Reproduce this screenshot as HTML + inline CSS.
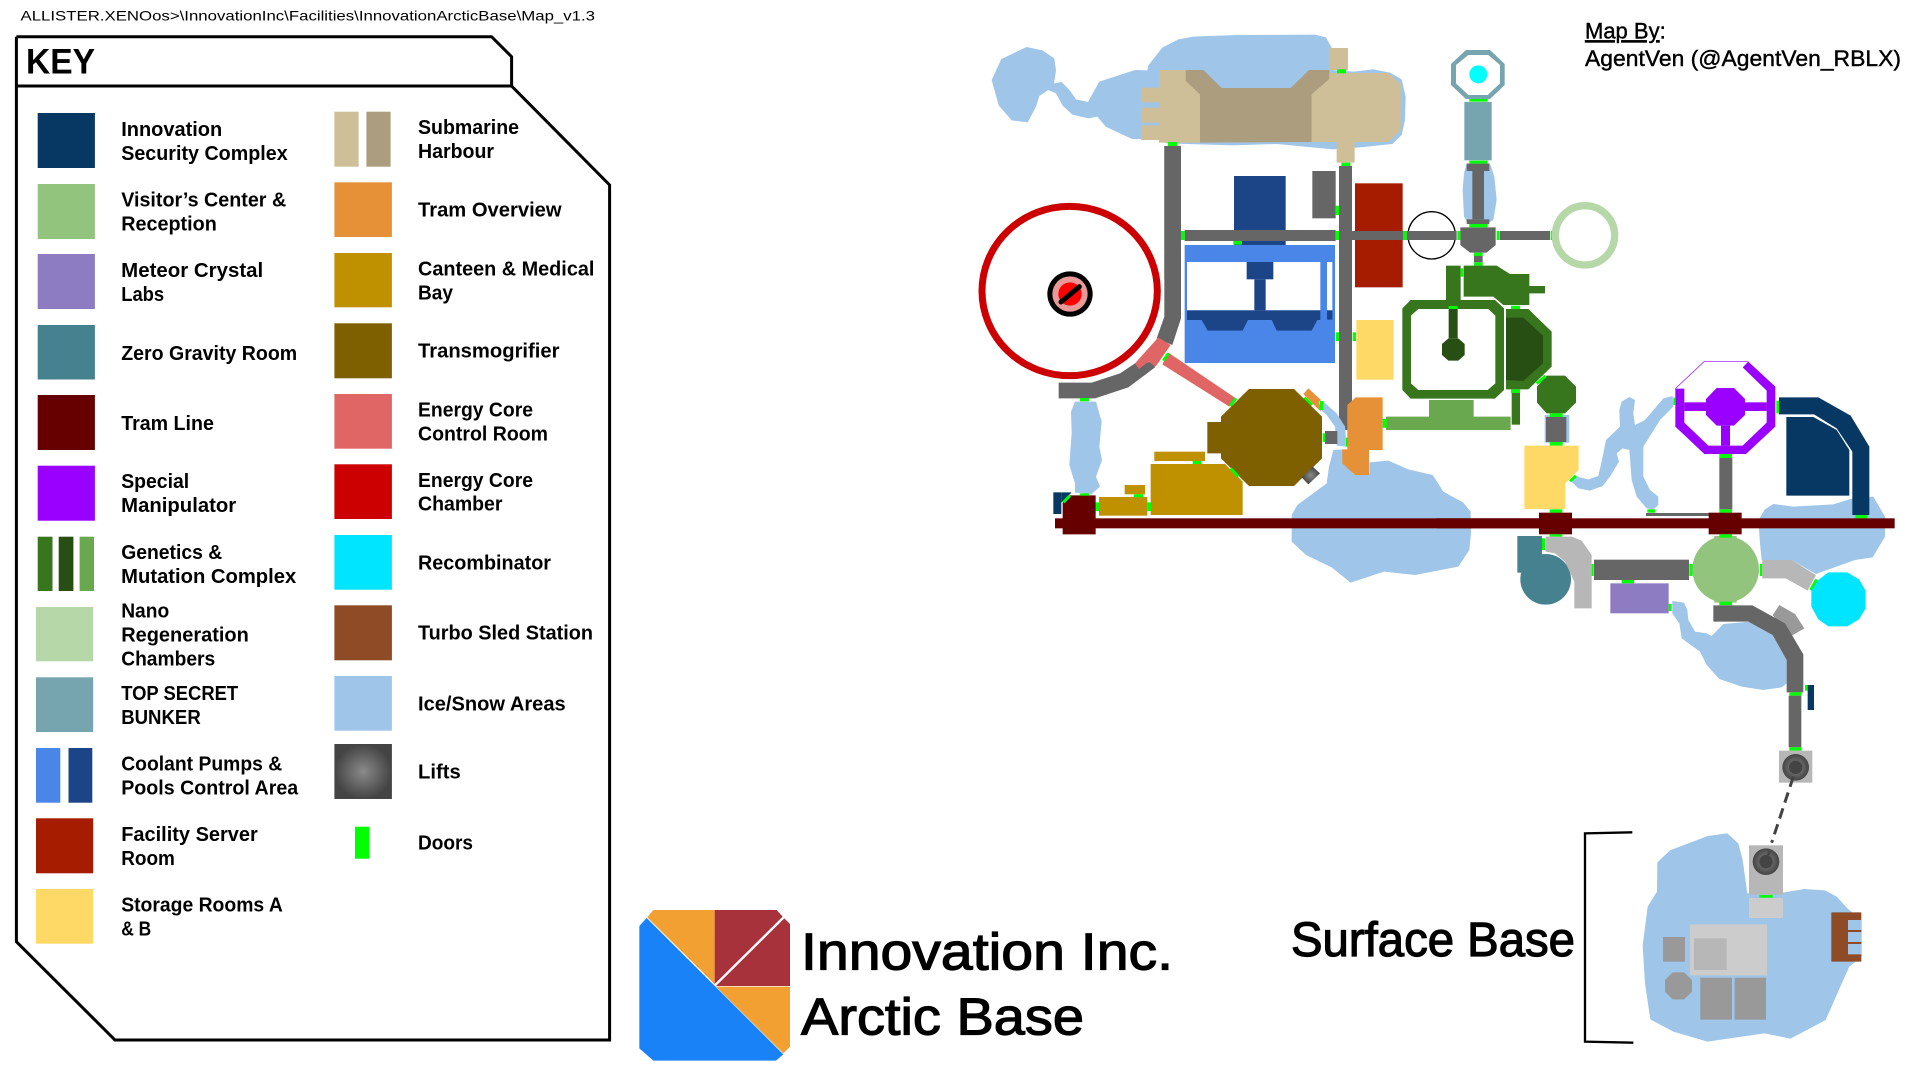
<!DOCTYPE html>
<html><head><meta charset="utf-8"><style>
html,body{margin:0;padding:0;background:#fff;width:1920px;height:1080px;overflow:hidden}
svg{display:block}
text{font-family:"Liberation Sans",sans-serif;fill:#000}
.k text{font-weight:700;font-size:20px}
.i{fill:#9fc5e8}.d{fill:#0f0}.dl{stroke:#0f0;stroke-width:9;fill:none}.y{fill:#666}
.n{fill:#073763}.g1{fill:#38761d}.g2{fill:#274e13}.g3{fill:#6aa84f}.c{fill:#bf9000}.dr{fill:#660000}.tan{fill:#cfbf99}.b1{fill:#4a86e8}.b2{fill:#1c4587}.or{fill:#e69138}.ts{fill:#76a5af}.lg{fill:#b7b7b7}.m{fill:#999}
</style></head><body>
<svg width="1920" height="1080" viewBox="0 0 1920 1080" xmlns="http://www.w3.org/2000/svg">
<defs><radialGradient id="lift"><stop offset="0" stop-color="#8a8a8a"/><stop offset="1" stop-color="#444"/></radialGradient></defs>
<rect width="1920" height="1080" fill="#fff"/>

<text x="20.5" y="20.7" font-size="14" textLength="574.5" lengthAdjust="spacingAndGlyphs">ALLISTER.XENOos&gt;\InnovationInc\Facilities\InnovationArcticBase\Map_v1.3</text>
<path d="M16.4 36.7H491.6L511.6 56.7V86L609.6 185V1040H115L16.4 941.7V86H511.6M16.4 86V36.7" fill="none" stroke="#000" stroke-width="3"/>
<text x="26" y="73.3" font-size="35" font-weight="700" textLength="69" lengthAdjust="spacingAndGlyphs">KEY</text>

<g class="k">
<rect x="37.7" y="113" width="57.2" height="55" class="n"/>
<rect x="37.7" y="184" width="57.2" height="55" fill="#93c47d"/>
<rect x="37.7" y="254" width="57.2" height="55" fill="#8e7cc3"/>
<rect x="37.7" y="325" width="57.2" height="54.5" fill="#45818e"/>
<rect x="37.7" y="395" width="57.2" height="55" class="dr"/>
<rect x="37.7" y="465.7" width="57.2" height="55" fill="#90f"/>
<rect x="37.7" y="536.7" width="14.8" height="54.3" class="g1"/><rect x="58.7" y="536.7" width="14.7" height="54.3" class="g2"/><rect x="79.6" y="536.7" width="14.4" height="54.3" class="g3"/>
<rect x="36" y="607" width="57.2" height="54.3" fill="#b6d7a8"/>
<rect x="36" y="677.3" width="57.2" height="54.7" class="ts"/>
<rect x="36" y="748" width="24.3" height="54.7" class="b1"/><rect x="68.5" y="748" width="23.8" height="54.7" class="b2"/>
<rect x="36" y="818.3" width="57.2" height="55" fill="#a61c00"/>
<rect x="36" y="889" width="57.2" height="54.7" fill="#ffd966"/>
<rect x="334.4" y="111.7" width="24.2" height="55" class="tan"/><rect x="366.4" y="111.7" width="24.2" height="55" fill="#ac9d7e"/>
<rect x="334.4" y="182.3" width="57.5" height="54.7" class="or"/>
<rect x="334.4" y="253" width="57.5" height="54.3" class="c"/>
<rect x="334.4" y="323.3" width="57.5" height="55" fill="#7f6000"/>
<rect x="334.4" y="394" width="57.5" height="54.7" fill="#e06666"/>
<rect x="334.4" y="464.3" width="57.5" height="54.7" fill="#c00"/>
<rect x="334.4" y="535" width="57.5" height="54.7" fill="#00e5ff"/>
<rect x="334.4" y="605.3" width="57.5" height="55" fill="#8e4b25"/>
<rect x="334.4" y="676" width="57.5" height="54.7" class="i"/>
<rect x="334.4" y="744" width="57.5" height="55" fill="url(#lift)"/>
<rect x="355" y="826.7" width="14.4" height="32" class="d"/>

<text x="121.2" y="136" textLength="101" lengthAdjust="spacingAndGlyphs">Innovation</text>
<text x="121.2" y="160" textLength="166.5" lengthAdjust="spacingAndGlyphs">Security Complex</text>
<text x="121.2" y="206.7" textLength="165" lengthAdjust="spacingAndGlyphs">Visitor’s Center &amp;</text>
<text x="121.2" y="230.7" textLength="95.6" lengthAdjust="spacingAndGlyphs">Reception</text>
<text x="121.2" y="277" textLength="142" lengthAdjust="spacingAndGlyphs">Meteor Crystal</text>
<text x="121.2" y="301" textLength="43" lengthAdjust="spacingAndGlyphs">Labs</text>
<text x="121.2" y="360" textLength="176" lengthAdjust="spacingAndGlyphs">Zero Gravity Room</text>
<text x="121.2" y="430" textLength="92.7" lengthAdjust="spacingAndGlyphs">Tram Line</text>
<text x="121.2" y="488" textLength="68" lengthAdjust="spacingAndGlyphs">Special</text>
<text x="121.2" y="512" textLength="115" lengthAdjust="spacingAndGlyphs">Manipulator</text>
<text x="121.2" y="559" textLength="101" lengthAdjust="spacingAndGlyphs">Genetics &amp;</text>
<text x="121.2" y="583" textLength="175" lengthAdjust="spacingAndGlyphs">Mutation Complex</text>
<text x="121.2" y="617.7" textLength="48" lengthAdjust="spacingAndGlyphs">Nano</text>
<text x="121.2" y="641.7" textLength="127.6" lengthAdjust="spacingAndGlyphs">Regeneration</text>
<text x="121.2" y="665.7" textLength="94" lengthAdjust="spacingAndGlyphs">Chambers</text>
<text x="121.2" y="700" textLength="117" lengthAdjust="spacingAndGlyphs">TOP SECRET</text>
<text x="121.2" y="724" textLength="79.6" lengthAdjust="spacingAndGlyphs">BUNKER</text>
<text x="121.2" y="770.7" textLength="161" lengthAdjust="spacingAndGlyphs">Coolant Pumps &amp;</text>
<text x="121.2" y="794.7" textLength="177" lengthAdjust="spacingAndGlyphs">Pools Control Area</text>
<text x="121.2" y="841" textLength="136.6" lengthAdjust="spacingAndGlyphs">Facility Server</text>
<text x="121.2" y="865" textLength="53.7" lengthAdjust="spacingAndGlyphs">Room</text>
<text x="121.2" y="911.7" textLength="161.6" lengthAdjust="spacingAndGlyphs">Storage Rooms A</text>
<text x="121.2" y="935.5" textLength="30" lengthAdjust="spacingAndGlyphs">&amp; B</text>

<text x="418" y="134" textLength="101" lengthAdjust="spacingAndGlyphs">Submarine</text>
<text x="418" y="158" textLength="76" lengthAdjust="spacingAndGlyphs">Harbour</text>
<text x="418" y="216.7" textLength="143.6" lengthAdjust="spacingAndGlyphs">Tram Overview</text>
<text x="418" y="275.3" textLength="176.4" lengthAdjust="spacingAndGlyphs">Canteen &amp; Medical</text>
<text x="418" y="299.3" textLength="35" lengthAdjust="spacingAndGlyphs">Bay</text>
<text x="418" y="357.5" textLength="141.5" lengthAdjust="spacingAndGlyphs">Transmogrifier</text>
<text x="418" y="416.3" textLength="115" lengthAdjust="spacingAndGlyphs">Energy Core</text>
<text x="418" y="440.3" textLength="130" lengthAdjust="spacingAndGlyphs">Control Room</text>
<text x="418" y="487" textLength="115" lengthAdjust="spacingAndGlyphs">Energy Core</text>
<text x="418" y="510.7" textLength="84.5" lengthAdjust="spacingAndGlyphs">Chamber</text>
<text x="418" y="569.3" textLength="133" lengthAdjust="spacingAndGlyphs">Recombinator</text>
<text x="418" y="639.7" textLength="175" lengthAdjust="spacingAndGlyphs">Turbo Sled Station</text>
<text x="418" y="710.3" textLength="147.7" lengthAdjust="spacingAndGlyphs">Ice/Snow Areas</text>
<text x="418" y="778.6" textLength="42.7" lengthAdjust="spacingAndGlyphs">Lifts</text>
<text x="418" y="849.3" textLength="55" lengthAdjust="spacingAndGlyphs">Doors</text>
</g>

<!-- ICE -->
<g transform="translate(960 0) scale(.33333)"><polygon class="i" points="95,240 124,177 200,141 247,151 283,175 288,212 282,250 305,246 330,272 348,298 384,306 418,245 525,210 562,211 565,196 607,143 655,118 700,110 830,105 1065,104 1098,112 1115,143 1115,210 1180,215 1240,208 1290,218 1325,238 1337,290 1335,360 1325,405 1297,432 1200,442 1120,448 950,432 820,436 620,430 595,417 516,417 437,380 412,350 385,355 337,344 308,317 288,280 265,270 238,288 228,320 203,367 155,361 116,316"/></g>
<g transform="translate(1280 430) scale(.33333)"><polygon class="i" points="160,60 190,58 187,97 222,133 268,133 268,97 325,92 385,118 458,135 490,185 550,218 572,245 573,310 568,360 535,410 405,435 312,425 212,458 155,412 78,375 35,335 35,255 52,225 140,160 147,110"/></g>
<g transform="translate(960 270) scale(.33333)">
<polygon class="i" points="345,395 408,395 425,455 418,530 426,570 408,620 420,650 395,672 345,668 345,640 328,585 335,490 333,425"/>
</g>
<g transform="translate(1440 0) scale(.33333)"><polygon class="i" points="80,490 150,490 163,530 170,600 160,660 140,672 85,672 72,650 68,570 72,520"/></g>
<g transform="translate(1440 270) scale(.33333)">
<rect class="i" x="314" y="435" width="74" height="83"/>
<polygon class="i" points="392,632 410,620 445,628 475,618 488,560 498,510 540,470 538,420 545,395 568,381 585,390 580,430 585,465 615,450 670,385 698,378 700,410 660,450 610,530 610,620 630,660 655,680 655,705 640,718 620,715 590,680 575,630 568,540 548,535 530,550 537,575 510,620 488,648 450,662 415,655"/>
</g>
<g transform="translate(1440 500) scale(.33333)">
<polygon class="i" points="955,60 975,28 1000,12 1060,20 1180,13 1237,-5 1300,-10 1335,50 1335,110 1298,172 1245,180 1128,222 1055,180 965,180 960,130"/>
<polygon class="i" points="697,303 732,308 742,330 745,360 765,395 800,400 815,408 850,372 930,365 1000,380 1040,480 1040,550 1025,562 970,570 905,560 838,537 800,495 780,455 725,415 718,370 697,340"/>
</g>

<!-- HARBOUR -->
<g transform="translate(960 0) scale(.33333)">
<rect class="tan" x="597" y="210" width="123" height="218"/>
<rect class="tan" x="543" y="263" width="56" height="44"/><rect class="tan" x="543" y="323" width="56" height="45"/><rect class="tan" x="543" y="376" width="56" height="44"/>
<polygon fill="#ac9d7e" points="677,210 730,210 785,264 992,264 1047,210 1108,210 1108,237 1055,283 1055,426 720,428 720,283 677,243"/>
<polygon class="tan" points="1055,283 1108,237 1108,219 1285,219 1322,253 1322,390 1285,426 1184,426 1184,488 1130,488 1130,426 1055,426"/>
<rect class="tan" x="1108" y="144" width="56" height="66"/>
<rect class="y" x="613" y="438" width="50" height="400"/>
<rect class="d" x="624" y="426" width="28" height="12"/><rect class="d" x="1131" y="208" width="27" height="12"/><rect class="d" x="1144" y="488" width="27" height="10"/>
</g>

<!-- CORE / LEFT -->
<g transform="translate(960 270) scale(.33333)">
<polygon class="y" points="613,-372 663,-372 663,145 637,225 590,205 613,140"/>
<polygon class="y" points="296,338 395,338 480,310 525,280 580,275 585,292 505,352 405,385 296,385"/>
<polygon fill="#e06666" points="595,202 632,225 587,290 565,275 537,297 525,280"/>
<polygon fill="#e06666" points="625,248 828,385 808,410 607,283"/>
<line class="dl" x1="610" y1="272" x2="625" y2="250"/>
<circle cx="330" cy="72" r="68" fill="#000"/><circle cx="330" cy="72" r="53" fill="#ea9999"/><circle cx="330" cy="72" r="35" fill="#f00"/>
<line x1="303" y1="96" x2="358" y2="50" stroke="#000" stroke-width="15" stroke-linecap="round"/>
<ellipse cx="329" cy="63" rx="263" ry="254" fill="none" stroke="#c00" stroke-width="21"/>
<rect class="d" x="360" y="384" width="27" height="10"/>
</g>

<!-- COOLANT etc -->
<g transform="translate(1170 170) scale(.33333)">
<rect class="b2" x="192" y="18" width="155" height="207"/>
<rect class="b1" x="44" y="225" width="451" height="354"/>
<rect x="51" y="276" width="400" height="145" fill="#fff"/><rect x="471" y="276" width="16" height="145" fill="#fff"/>
<rect class="b2" x="230" y="276" width="80" height="52"/><rect class="b2" x="253" y="328" width="34" height="93"/>
<rect class="b2" x="51" y="421" width="400" height="29"/><rect class="b2" x="471" y="421" width="16" height="28"/>
<polygon class="b2" points="95,450 113,482 218,482 234,450"/><polygon class="b2" points="305,450 320,482 425,482 442,450"/>
<rect class="y" x="44" y="180" width="453" height="33"/>
<rect class="y" x="427" y="3" width="70" height="142"/>
<rect class="y" x="507" y="-12" width="39" height="792"/>
<rect fill="#a61c00" x="555" y="40" width="143" height="312"/>
<rect class="y" x="546" y="183" width="154" height="27"/>
<circle cx="785" cy="196" r="71" fill="none" stroke="#000" stroke-width="4"/>
<rect class="y" x="710" y="183" width="150" height="27"/>
<polygon class="y" points="871,172 977,172 977,225 950,248 900,248 871,225"/>
<rect class="y" x="990" y="183" width="150" height="27"/>
<rect class="y" x="912" y="258" width="26" height="19"/>
<rect class="d" x="33" y="183" width="11" height="27"/><rect class="d" x="190" y="213" width="26" height="11"/>
<rect class="d" x="497" y="183" width="10" height="27"/><rect class="d" x="497" y="107" width="10" height="28"/>
<rect class="d" x="700" y="183" width="10" height="27"/><rect class="d" x="862" y="183" width="9" height="27"/>
<rect class="d" x="898" y="162" width="55" height="10"/><rect class="d" x="980" y="183" width="9" height="27"/>
<rect class="d" x="912" y="248" width="26" height="10"/><rect class="d" x="912" y="277" width="26" height="10"/>
<rect class="d" x="497" y="487" width="10" height="26"/><rect class="d" x="548" y="487" width="10" height="26"/>
<rect fill="#ffd966" x="559" y="450" width="112" height="179"/>
<!-- genetics -->
<rect class="g1" x="828" y="287" width="44" height="103"/>
<rect class="d" x="872" y="295" width="8" height="25"/>
<polygon class="g1" points="881,287 980,287 1020,312 1078,312 1078,348 1125,348 1125,370 1078,370 1078,405 1000,405 970,380 881,380"/>
<path class="g1" fill-rule="evenodd" d="M722 390H975L1002 415V660L975 686H722L697 660V415ZM745 417L723 437V640L745 660H953L976 640V437L955 417Z"/>
<rect class="g2" x="836" y="417" width="27" height="88"/>
<rect class="d" x="836" y="408" width="27" height="9"/>
<polygon class="g2" points="835,505 865,505 884,522 884,555 865,572 835,572 816,555 816,522"/>
<polygon class="g3" points="777,690 911,690 911,740 1022,740 1022,780 648,780 648,740 777,740"/>
<rect class="d" x="640" y="747" width="8" height="26"/>
</g>
<g transform="translate(1440 0) scale(.33333)">
<polygon class="ts" points="78,150 150,150 194,192 194,255 150,297 78,297 33,255 33,192"/>
<polygon fill="#fff" points="85,165 145,165 180,195 180,250 143,285 85,285 48,250 48,195"/>
<circle cx="115" cy="223" r="27" fill="#0ff"/>
<rect class="d" x="88" y="297" width="55" height="8"/>
<rect class="ts" x="73" y="306" width="82" height="175"/>
<rect class="d" x="88" y="482" width="55" height="9"/>
<rect class="y" x="80" y="491" width="68" height="22"/><rect class="y" x="97" y="513" width="35" height="145"/><rect class="y" x="80" y="658" width="68" height="14"/>
<rect class="d" x="332" y="693" width="4" height="27"/>
<circle cx="435" cy="706" r="89" fill="none" stroke="#b6d7a8" stroke-width="22"/>
</g>
<g transform="translate(1440 270) scale(.33333)">
<polygon class="g1" points="198,117 265,117 335,185 335,290 265,358 198,358"/>
<polygon class="g2" points="198,143 250,143 309,197 309,280 250,333 198,330"/>
<rect class="g1" x="215" y="369" width="25" height="95"/>
<rect class="d" x="213" y="107" width="27" height="10"/><rect class="d" x="213" y="358" width="27" height="11"/>
<polygon class="g1" points="320,317 375,317 408,350 408,398 375,430 320,430 291,398 291,350"/>
<line class="dl" x1="290" y1="341" x2="317" y2="318"/>
<rect class="d" x="329" y="430" width="39" height="11"/>
<rect class="y" x="318" y="441" width="61" height="75"/>
<rect class="d" x="329" y="516" width="39" height="11"/>
<polygon fill="#ffd966" points="253,527 416,527 416,600 376,640 376,717 253,717"/>
<line class="dl" x1="390" y1="634" x2="408" y2="617"/>
<rect class="d" x="329" y="718" width="38" height="10"/>
<!-- manipulator -->
<path d="M706 356L793 274H925" fill="none" stroke="#90f" stroke-width="2"/>
<polygon fill="#90f" points="925,275 1006,350 1006,470 918,552 793,552 706,470 706,356 733,356 733,458 805,527 908,527 980,458 980,362 908,292"/>
<polygon fill="#90f" points="830,354 882,354 915,387 915,435 882,467 830,467 798,435 798,387"/>
<rect fill="#90f" x="733" y="397" width="247" height="26"/><rect fill="#90f" x="843" y="467" width="27" height="60"/>
<rect class="d" x="700" y="383" width="7" height="22"/><rect class="d" x="1009" y="392" width="8" height="38"/>
<rect class="d" x="838" y="552" width="38" height="12"/>
<rect class="y" x="838" y="564" width="39" height="154"/>
<rect class="d" x="838" y="718" width="38" height="10"/>
<rect class="y" x="618" y="729" width="190" height="9"/>
<rect class="d" x="622" y="718" width="23" height="10"/>
<!-- security -->
<polygon class="n" points="1017,382 1135,382 1232,437 1288,530 1288,735 1237,735 1237,545 1190,475 1122,433 1017,433"/>
<polygon class="n" points="1039,441 1120,441 1190,480 1228,540 1228,677 1039,677"/>
<rect class="d" x="1246" y="735" width="37" height="10"/>
</g>

<!-- CENTRE -->
<g transform="translate(960 270) scale(.33333)">
<polygon class="i" points="1090,395 1130,430 1155,470 1160,530 1130,527 1125,470 1100,435 1085,422"/>
<polygon class="or" points="1162,405 1187,382 1268,382 1268,540 1227,540 1227,615 1185,615 1147,580 1147,538 1162,538"/>
<polygon class="or" points="1030,372 1045,355 1083,390 1065,408"/><polygon class="or" points="1065,408 1078,395 1083,425"/>
<line class="dl" x1="1033" y1="383" x2="1056" y2="405"/>
<rect class="d" x="1080" y="393" width="10" height="27"/><rect class="d" x="1268" y="447" width="12" height="26"/>
<rect class="d" x="1158" y="503" width="5" height="27"/>
<rect class="y" x="1095" y="483" width="37" height="39"/><rect class="d" x="1088" y="490" width="8" height="26"/>
<polygon fill="#7f6000" points="867,357 1002,357 1086,440 1086,565 1002,648 867,648 783,565 783,550 742,550 742,456 783,456 783,440"/>
<line class="dl" x1="810" y1="408" x2="828" y2="385"/>
<polygon fill="url(#lift)" points="1058,590 1080,610 1045,643 1025,622"/>
<polygon class="c" points="572,582 795,582 848,635 848,735 572,735"/>
<line class="dl" x1="812" y1="595" x2="835" y2="620"/>
<rect class="c" x="583" y="545" width="152" height="28"/><rect class="d" x="698" y="573" width="27" height="9"/>
<rect class="c" x="417" y="681" width="145" height="56"/><rect class="c" x="494" y="645" width="61" height="28"/>
<rect class="d" x="522" y="673" width="28" height="9"/><rect class="d" x="407" y="697" width="10" height="26"/><rect class="d" x="562" y="697" width="11" height="26"/>
<rect class="n" x="280" y="667" width="24" height="65"/><polygon class="n" points="304,667 335,667 304,698"/>
<rect class="dr" x="285" y="745" width="1460" height="30"/>
<polygon class="dr" points="330,676 407,676 407,793 308,793 308,698"/>
<line class="dl" x1="310" y1="697" x2="330" y2="677"/>
<rect class="d" x="360" y="670" width="27" height="7"/>
</g>
<g transform="translate(1440 270) scale(.33333)">
<rect class="dr" x="-10" y="745" width="1374" height="30"/>
<rect class="dr" x="297" y="728" width="99" height="65"/><rect class="dr" x="806" y="728" width="99" height="65"/>
</g>

<!-- SOUTH -->
<g transform="translate(1440 500) scale(.33333)">
<rect class="d" x="329" y="103" width="38" height="7"/>
<rect fill="#45818e" x="232" y="108" width="74" height="110"/><circle cx="317" cy="238" r="76" fill="#45818e"/>
<rect class="d" x="306" y="115" width="9" height="35"/>
<polygon class="lg" points="317,110 395,110 425,122 455,165 455,325 403,325 403,245 375,185 345,160 317,155"/>
<rect class="d" x="455" y="192" width="6" height="36"/>
<rect class="y" x="462" y="179" width="285" height="61"/>
<rect class="d" x="748" y="192" width="10" height="36"/>
<circle cx="857" cy="208" r="100" fill="#93c47d"/><rect x="823" y="108" width="67" height="200" fill="#93c47d"/>
<rect class="d" x="838" y="103" width="38" height="10"/><rect class="d" x="838" y="305" width="38" height="11"/>
<rect class="d" x="960" y="192" width="7" height="36"/>
<polygon class="lg" points="967,180 1055,180 1128,225 1103,272 1037,235 967,235"/>
<line class="dl" x1="1130" y1="238" x2="1112" y2="270"/>
<polygon fill="#00e5ff" points="1165,217 1222,217 1257,238 1277,272 1277,325 1257,358 1222,379 1165,379 1135,358 1114,320 1114,272 1135,240"/>
<rect fill="#8e7cc3" x="511" y="250" width="175" height="90"/>
<rect class="d" x="545" y="240" width="37" height="10"/><rect class="d" x="686" y="312" width="9" height="21"/>
<polygon class="m" points="1018,315 1065,342 1093,385 1050,410 998,345"/>
<polygon class="y" points="820,316 937,316 1035,370 1090,463 1090,577 1040,577 1040,480 998,405 925,365 820,365"/>
<rect class="d" x="1048" y="577" width="37" height="10"/>
<rect class="y" x="1046" y="587" width="38" height="155"/>
<rect class="d" x="1048" y="742" width="37" height="10"/>
<rect class="d" x="1095" y="555" width="8" height="17"/><rect class="n" x="1103" y="555" width="19" height="75"/>
<rect class="lg" x="1017" y="752" width="100" height="96"/>
<circle cx="1067" cy="802" r="40" fill="url(#lift)"/><circle cx="1067" cy="802" r="20" fill="#444"/>
</g>

<!-- SURFACE -->
<g transform="translate(1560 770) scale(.33333)">
<path d="M217 187L75 190V815L220 818" fill="none" stroke="#000" stroke-width="7"/>
<polygon class="i" points="292,277 330,241 443,198 502,190 535,220 548,270 562,370 668,368 733,357 795,361 830,380 862,415 905,450 905,560 868,590 852,625 797,750 692,806 613,790 442,815 340,785 271,748 255,640 248,527 263,410 291,365"/>
<rect class="lg" x="567" y="226" width="102" height="148"/>
<circle cx="618" cy="275" r="40" fill="url(#lift)"/><circle cx="618" cy="275" r="20" fill="#444"/>
<line x1="618" y1="275" x2="628" y2="245" stroke="#444" stroke-width="7"/>
<rect class="d" x="598" y="375" width="40" height="8"/>
<rect fill="#ccc" x="567" y="384" width="102" height="60"/>
<rect fill="#ccc" x="390" y="463" width="231" height="153"/>
<rect class="lg" x="402" y="505" width="98" height="95"/>
<rect class="m" x="309" y="501" width="66" height="74"/>
<polygon class="m" points="338,607 372,607 396,630 396,665 372,688 338,688 315,665 315,630"/>
<rect class="m" x="421" y="623" width="95" height="126"/><rect class="m" x="524" y="623" width="94" height="126"/>
<path fill="#8e4b25" d="M814 427H904V450H864V480H904V486H864V516H904V522H864V553H904V575H814Z"/>
<line x1="700" y1="20" x2="635" y2="218" stroke="#434343" stroke-width="9" stroke-dasharray="32 18"/>
</g>

<!-- LOGO -->
<g transform="translate(620 900) scale(.33333)">
<polygon fill="#1a82f7" points="58,78 80,54 490,463 468,482 100,482 58,445"/>
<polygon fill="#f3a032" points="82,52 100,30 284,30 284,252"/>
<polygon fill="#a8323c" points="284,30 470,30 488,50 284,252"/>
<polygon fill="#a8323c" points="493,55 510,72 510,258 288,258"/>
<polygon fill="#f3a032" points="288,260 510,260 510,440 490,460"/>
</g>

<text x="801" y="969.5" font-size="52" stroke="#000" stroke-width="1.2" textLength="372" lengthAdjust="spacingAndGlyphs">Innovation Inc.</text>
<text x="801" y="1034.5" font-size="52" stroke="#000" stroke-width="1.2" textLength="283" lengthAdjust="spacingAndGlyphs">Arctic Base</text>
<text x="1291" y="956" font-size="48" stroke="#000" stroke-width="1.2" textLength="284" lengthAdjust="spacingAndGlyphs">Surface Base</text>
<text x="1585" y="38.3" font-size="22" stroke="#000" stroke-width=".4"><tspan text-decoration="underline">Map By</tspan>:</text>
<text x="1585" y="66" font-size="22" stroke="#000" stroke-width=".4" textLength="316" lengthAdjust="spacingAndGlyphs">AgentVen (@AgentVen_RBLX)</text>
</svg>
</body></html>
